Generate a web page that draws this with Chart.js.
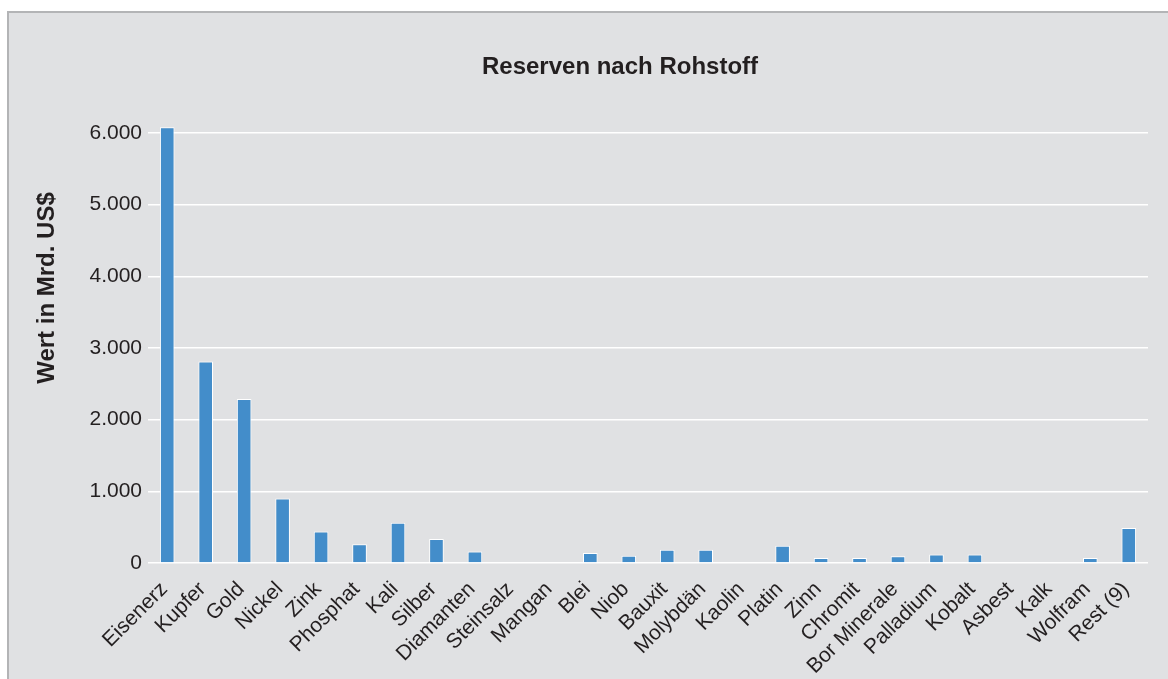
<!DOCTYPE html>
<html lang="de">
<head>
<meta charset="utf-8">
<title>Reserven nach Rohstoff</title>
<script src="https://cdn.jsdelivr.net/npm/chart.js@4.4.1/dist/chart.umd.min.js"></script>
<style>
    html, body {
        margin: 0;
        padding: 0;
        background: #ffffff;
        overflow: hidden;
    }
    #frame {
        position: absolute;
        left: 7px;
        top: 11px;
        width: 1200px;
        height: 720px;
        background: #e0e1e3;
        border-left: 2px solid #b3b4b6;
        border-top: 2px solid #b3b4b6;
    }
    #wrap {
        position: absolute;
        left: 0;
        top: 0;
        width: 1168px;
        height: 679px;
    }
</style>
</head>
<body>
<div id="frame"></div>
<div id="wrap"><canvas id="reserveChart"></canvas></div>

<script>
// Rohstoffe und Wert der Reserven (Mrd. US$)
const rohstoffe = [
    "Eisenerz", "Kupfer", "Gold", "Nickel", "Zink", "Phosphat", "Kali",
    "Silber", "Diamanten", "Steinsalz", "Mangan", "Blei", "Niob", "Bauxit",
    "Molybdän", "Kaolin", "Platin", "Zinn", "Chromit", "Bor Minerale",
    "Palladium", "Kobalt", "Asbest", "Kalk", "Wolfram", "Rest (9)"
];
const werte = [
    6080, 2810, 2290, 900, 440, 260, 560,
    335, 160, 0, 0, 140, 100, 185,
    185, 0, 240, 70, 70, 95,
    120, 120, 0, 0, 70, 490
];
const yTicks = [0, 1000, 2000, 3000, 4000, 5000, 6000];

const chartTitle = "Reserven nach Rohstoff";
const yTitle = "Wert in Mrd. US$";

const textColor = "#231f20";
const barColor = "#438dca";
const fontFamily = "'Liberation Sans', Arial, Helvetica, sans-serif";

function formatDe(v) {
    return String(v).replace(/\B(?=(\d{3})+(?!\d))/g, ".");
}

// Diagrammtitel und Achsentitel selbst zeichnen (feste Position)
const titlePlugin = {
    id: "plotTitles",
    afterDraw(chart) {
        const ctx = chart.ctx;
        ctx.save();
        ctx.font = "bold 24px " + fontFamily;
        ctx.fillStyle = textColor;
        ctx.textAlign = "center";
        ctx.textBaseline = "middle";
        ctx.fillText(chartTitle, 620, 67);

        ctx.translate(47, 288);
        ctx.rotate(-Math.PI / 2);
        ctx.fillText(yTitle, 0, 0);
        ctx.restore();
    }
};

const reserveChart = new Chart(
    document.getElementById("reserveChart"),
    {
        type: "bar",
        data: {
            labels: rohstoffe,
            datasets: [{
                label: "Reserven",
                data: werte,
                backgroundColor: barColor,
                borderColor: "#ffffff",
                borderWidth: 1,
                barPercentage: 0.38,
                categoryPercentage: 1,
                clip: false
            }]
        },
        options: {
            responsive: true,
            maintainAspectRatio: false,
            animation: false,
            layout: {
                padding: { left: 30, top: 133, right: 20, bottom: 0 }
            },
            plugins: {
                legend: { display: false },
                title: { display: false },
                tooltip: { enabled: false }
            },
            scales: {
                x: {
                    grid: { display: false },
                    border: { display: false },
                    ticks: {
                        color: textColor,
                        font: { family: fontFamily, size: 21 },
                        minRotation: 45,
                        maxRotation: 45,
                        autoSkip: false,
                        padding: 6,
                        labelOffset: -3
                    },
                    afterFit: s => { s.height = 116; }
                },
                y: {
                    min: 0,
                    max: 6000,
                    afterBuildTicks: s => {
                        s.ticks = yTicks.map(v => ({ value: v }));
                    },
                    grid: {
                        color: "#ffffff",
                        lineWidth: 1.5,
                        drawTicks: false
                    },
                    border: { display: false },
                    ticks: {
                        color: textColor,
                        font: { family: fontFamily, size: 21 },
                        padding: 6,
                        callback: v => formatDe(v)
                    },
                    afterFit: s => { s.width = 118; }
                }
            }
        },
        plugins: [titlePlugin]
    }
);
</script>
</body>
</html>
